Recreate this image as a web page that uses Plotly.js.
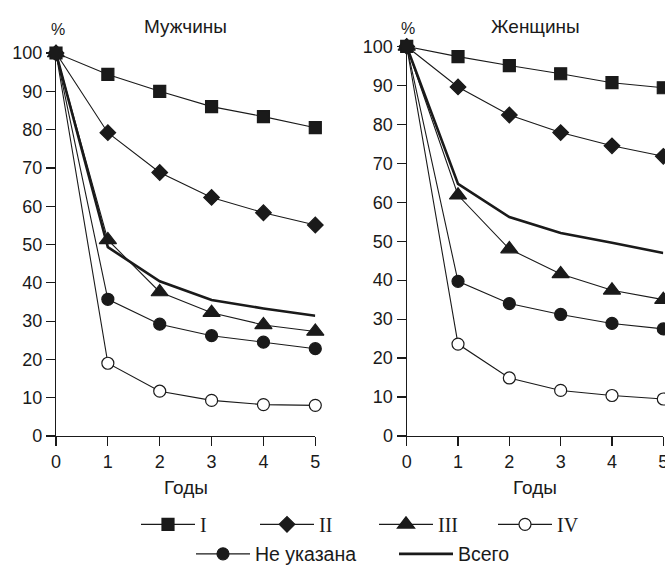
<!DOCTYPE html>
<html><head><meta charset="utf-8">
<script src="https://cdn.plot.ly/plotly-3.0.1.min.js"></script>
<style>body{margin:0;background:#fff}</style></head>
<body><div id="chart" style="width:665px;height:574px"></div>
<script>
const years = [0, 1, 2, 3, 4, 5];
const xTickVals = [0, 1, 2, 3, 4, 5];
const yTickVals = [0, 10, 20, 30, 40, 50, 60, 70, 80, 90, 100];
const seriesNames = ['I', 'II', 'III', 'IV', 'Не указана', 'Всего'];
const panelTitles = ['Мужчины', 'Женщины'];
const xLabel = 'Годы';
const yLabel = '%';

const menI     = [100, 94.4, 90.0, 86.0, 83.4, 80.5];
const menII    = [100, 79.2, 68.8, 62.3, 58.3, 55.1];
const menIII   = [100, 51.2, 37.6, 32.2, 29.0, 27.3];
const menIV    = [100, 19.0, 11.7, 9.3, 8.2, 8.0];
const menNA    = [100, 35.7, 29.2, 26.2, 24.5, 22.8];
const menTotal = [100, 49.3, 40.4, 35.5, 33.3, 31.4];

const womenI     = [100, 97.4, 95.1, 93.0, 90.7, 89.4];
const womenII    = [100, 89.6, 82.4, 77.9, 74.5, 71.8];
const womenIII   = [100, 61.8, 48.0, 41.6, 37.4, 35.0];
const womenIV    = [100, 23.6, 14.9, 11.7, 10.4, 9.5];
const womenNA    = [100, 39.7, 34.0, 31.2, 28.9, 27.5];
const womenTotal = [100, 64.7, 56.2, 52.1, 49.6, 47.0];

const INK = '#1a1a1a';
const SANS = 'Liberation Sans, Arial, sans-serif';
const styles = [
  {symbol: 'square', size: 12, fill: INK, width: 1.1, legend: 'legend'},
  {symbol: 'diamond', size: 12, fill: INK, width: 1.1, legend: 'legend'},
  {symbol: 'triangle-up', size: 15, fill: INK, width: 1.1, legend: 'legend'},
  {symbol: 'circle', size: 12, fill: '#ffffff', width: 1.1, legend: 'legend'},
  {symbol: 'circle', size: 12, fill: INK, width: 1.1, legend: 'legend2'},
  {symbol: null, size: 0, fill: INK, width: 2.6, legend: 'legend2'}
];

const panels = [
  {xa: 'x', ya: 'y', data: [menI, menII, menIII, menIV, menNA, menTotal], show: true},
  {xa: 'x2', ya: 'y2', data: [womenI, womenII, womenIII, womenIV, womenNA, womenTotal], show: false}
];

const traces = [];
const order = [5, 4, 3, 2, 1, 0];
panels.forEach(p => {
  order.forEach(i => {
    const s = styles[i];
    const t = {
      x: years, y: p.data[i], xaxis: p.xa, yaxis: p.ya,
      name: seriesNames[i], legend: s.legend, showlegend: p.show,
      legendrank: i + 1,
      cliponaxis: false,
      line: {color: INK, width: s.width},
      hoverinfo: 'x+y+name'
    };
    if (s.symbol) {
      t.mode = 'lines+markers';
      t.marker = {symbol: s.symbol, size: s.size, color: s.fill, line: {color: INK, width: 1.2}};
    } else {
      t.mode = 'lines';
    }
    traces.push(t);
  });
});

const W = 665, H = 574;
const px = v => v / W;
const py = v => 1 - v / H;

const axisCommon = {
  showline: true, linecolor: INK, linewidth: 1.2,
  ticks: 'outside', ticklen: 9, tickwidth: 1.2, tickcolor: INK,
  showgrid: false, zeroline: false,
  tickfont: {family: SANS, size: 18, color: INK},
  tickmode: 'array', fixedrange: true, ticklabeloverflow: 'allow'
};

const layout = {
  width: W, height: H,
  margin: {l: 0, r: 0, t: 0, b: 0},
  paper_bgcolor: '#fff', plot_bgcolor: 'rgba(0,0,0,0)',
  showlegend: true,
  xaxis: Object.assign({}, axisCommon, {domain: [px(56), px(315.3)], range: [0, 5], tickvals: xTickVals, anchor: 'y'}),
  yaxis: Object.assign({}, axisCommon, {domain: [py(438.3), py(53.3)], range: [0, 100], tickvals: yTickVals, anchor: 'x'}),
  xaxis2: Object.assign({}, axisCommon, {domain: [px(406.7), px(663.3)], range: [0, 5], tickvals: xTickVals, anchor: 'y2'}),
  yaxis2: Object.assign({}, axisCommon, {domain: [py(438.3), py(46.7)], range: [0, 100], tickvals: yTickVals, anchor: 'x2'}),
  legend: {
    orientation: 'h', x: px(136), xanchor: 'left', y: py(507.5), yanchor: 'top',
    font: {family: 'Liberation Serif, Times New Roman, serif', size: 20, color: INK},
    itemwidth: 54, entrywidth: 50, traceorder: 'normal', bgcolor: 'rgba(0,0,0,0)'
  },
  legend2: {
    orientation: 'h', x: px(191), xanchor: 'left', y: py(537.5), yanchor: 'top',
    font: {family: SANS, size: 19.5, color: INK},
    itemwidth: 54, entrywidth: 134, traceorder: 'normal', bgcolor: 'rgba(0,0,0,0)'
  },
  annotations: [
    {text: panelTitles[0], xref: 'x domain', x: 0.5, yref: 'paper', y: py(26.5), xanchor: 'center', yanchor: 'middle', showarrow: false, font: {family: SANS, size: 19, color: INK}},
    {text: panelTitles[1], xref: 'x2 domain', x: 0.5, yref: 'paper', y: py(26.5), xanchor: 'center', yanchor: 'middle', showarrow: false, font: {family: SANS, size: 19, color: INK}},
    {text: yLabel, xref: 'paper', x: px(57.5), yref: 'paper', y: py(29.5), xanchor: 'center', yanchor: 'middle', showarrow: false, font: {family: SANS, size: 16, color: INK}},
    {text: yLabel, xref: 'paper', x: px(408), yref: 'paper', y: py(29), xanchor: 'center', yanchor: 'middle', showarrow: false, font: {family: SANS, size: 16, color: INK}},
    {text: xLabel, xref: 'x domain', x: 0.5, yref: 'paper', y: py(490), xanchor: 'center', yanchor: 'middle', showarrow: false, font: {family: SANS, size: 19, color: INK}},
    {text: xLabel, xref: 'x2 domain', x: 0.5, yref: 'paper', y: py(490), xanchor: 'center', yanchor: 'middle', showarrow: false, font: {family: SANS, size: 19, color: INK}}
  ]
};

Plotly.newPlot('chart', traces, layout, {displayModeBar: false, staticPlot: true});
</script>
</body></html>
